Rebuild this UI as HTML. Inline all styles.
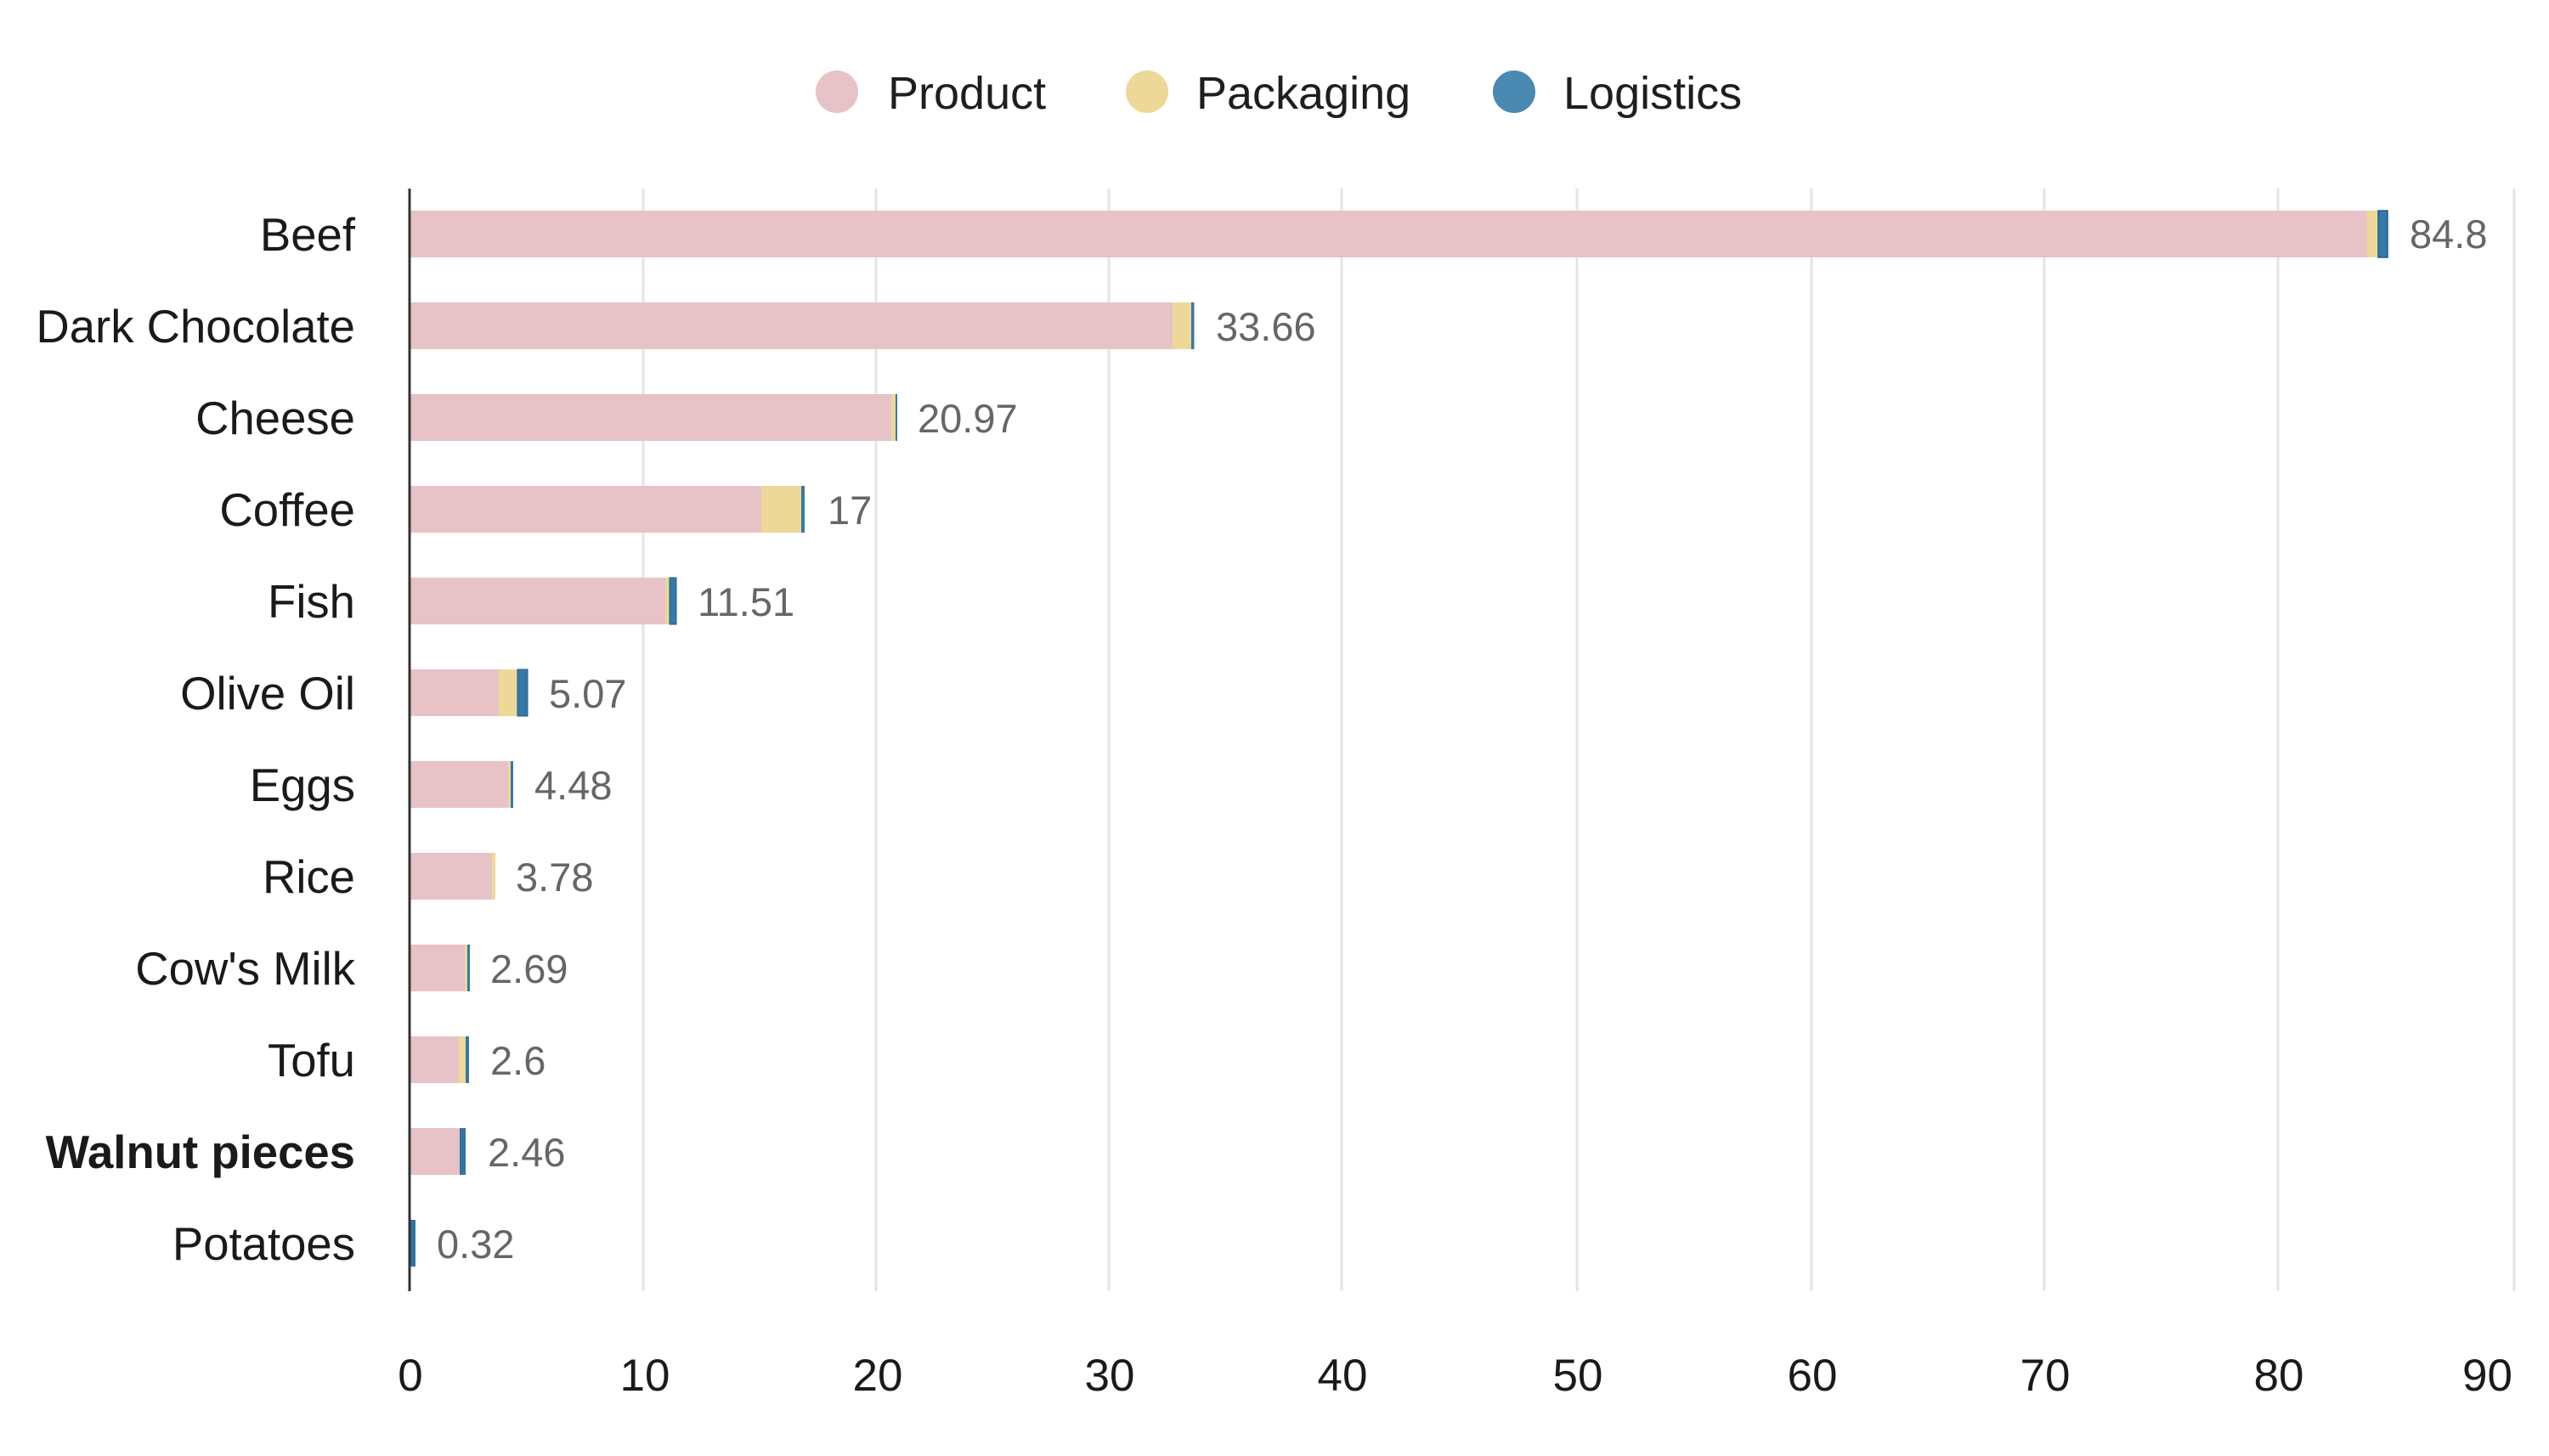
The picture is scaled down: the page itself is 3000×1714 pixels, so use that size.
<!DOCTYPE html>
<html>
<head>
<meta charset="utf-8">
<style>
  html, body { margin: 0; padding: 0; background: #ffffff; }
  body { width: 3000px; height: 1714px; overflow: hidden; }
  svg { display: block; }
  text { font-family: "Liberation Sans", Arial, Helvetica, sans-serif; }
</style>
</head>
<body>
<svg width="3000" height="1714" viewBox="0 0 3000 1714" xmlns="http://www.w3.org/2000/svg">
  <rect x="0" y="0" width="3000" height="1714" fill="#ffffff"/>

  <!-- Legend -->
  <circle cx="985" cy="108" r="25" fill="#e7c2c7"/>
  <text x="1045" y="128" font-size="54" fill="#1e1e1e">Product</text>
  <circle cx="1350" cy="108" r="25" fill="#edd898"/>
  <text x="1408" y="128" font-size="54" fill="#1e1e1e">Packaging</text>
  <circle cx="1782" cy="108" r="25" fill="#4a89b2"/>
  <text x="1840" y="128" font-size="54" fill="#1e1e1e">Logistics</text>

  <!-- Gridlines -->
  <g stroke="#e4e4e4" stroke-width="3">
    <line x1="757" y1="222" x2="757" y2="1520"/>
    <line x1="1031" y1="222" x2="1031" y2="1520"/>
    <line x1="1305" y1="222" x2="1305" y2="1520"/>
    <line x1="1579" y1="222" x2="1579" y2="1520"/>
    <line x1="1856" y1="222" x2="1856" y2="1520"/>
    <line x1="2132" y1="222" x2="2132" y2="1520"/>
    <line x1="2406" y1="222" x2="2406" y2="1520"/>
    <line x1="2681" y1="222" x2="2681" y2="1520"/>
    <line x1="2959" y1="222" x2="2959" y2="1520"/>
  </g>

  <!-- Bars -->
  <!-- Beef -->
  <rect x="483" y="248" width="2303" height="55" fill="#e7c2c7"/>
  <rect x="2786" y="248" width="13" height="55" fill="#edd898"/>
  <rect x="2799" y="248" width="11" height="55" fill="#3479a8" stroke="#1f5f8a" stroke-width="1.5"/>
  <!-- Dark Chocolate -->
  <rect x="483" y="356" width="897" height="55" fill="#e7c2c7"/>
  <rect x="1380" y="356" width="22" height="55" fill="#edd898"/>
  <rect x="1402" y="356" width="3.5" height="55" fill="#3479a8"/>
  <!-- Cheese -->
  <rect x="483" y="464" width="566" height="55" fill="#e7c2c7"/>
  <rect x="1049" y="464" width="5" height="55" fill="#edd898"/>
  <rect x="1054" y="464" width="2" height="55" fill="#3479a8"/>
  <!-- Coffee -->
  <rect x="483" y="572" width="413" height="55" fill="#e7c2c7"/>
  <rect x="896" y="572" width="47" height="55" fill="#edd898"/>
  <rect x="943" y="572" width="4" height="55" fill="#3479a8"/>
  <!-- Fish -->
  <rect x="483" y="680" width="300" height="55" fill="#e7c2c7"/>
  <rect x="783" y="680" width="5" height="55" fill="#edd898"/>
  <rect x="788" y="680" width="8" height="55" fill="#3479a8" stroke="#1f5f8a" stroke-width="1"/>
  <!-- Olive Oil -->
  <rect x="483" y="788" width="104" height="55" fill="#e7c2c7"/>
  <rect x="587" y="788" width="22" height="55" fill="#edd898"/>
  <rect x="609" y="788" width="12" height="55" fill="#3479a8" stroke="#1f5f8a" stroke-width="1"/>
  <!-- Eggs -->
  <rect x="483" y="896" width="115" height="55" fill="#e7c2c7"/>
  <rect x="598" y="896" width="3" height="55" fill="#edd898"/>
  <rect x="601" y="896" width="3" height="55" fill="#3479a8"/>
  <!-- Rice -->
  <rect x="483" y="1004" width="96" height="55" fill="#e7c2c7"/>
  <rect x="579" y="1004" width="4" height="55" fill="#edd898"/>
  <!-- Cow's Milk -->
  <rect x="483" y="1112" width="64" height="55" fill="#e7c2c7"/>
  <rect x="547" y="1112" width="3" height="55" fill="#edd898"/>
  <rect x="550" y="1112" width="3" height="55" fill="#3479a8"/>
  <!-- Tofu -->
  <rect x="483" y="1220" width="57" height="55" fill="#e7c2c7"/>
  <rect x="540" y="1220" width="8" height="55" fill="#edd898"/>
  <rect x="548" y="1220" width="4" height="55" fill="#3479a8"/>
  <!-- Walnut pieces -->
  <rect x="483" y="1328" width="58" height="55" fill="#e7c2c7"/>
  <rect x="541" y="1328" width="7" height="55" fill="#2f74a3"/>
  <!-- Potatoes -->
  <rect x="483" y="1436" width="6" height="55" fill="#2f74a3"/>

  <!-- Axis line -->
  <line x1="482" y1="222" x2="482" y2="1520" stroke="#333333" stroke-width="3"/>

  <!-- Category labels -->
  <g font-size="54.5" fill="#1a1a1a" text-anchor="end">
    <text x="418" y="295">Beef</text>
    <text x="418" y="403">Dark Chocolate</text>
    <text x="418" y="511">Cheese</text>
    <text x="418" y="619">Coffee</text>
    <text x="418" y="727">Fish</text>
    <text x="418" y="835">Olive Oil</text>
    <text x="418" y="943">Eggs</text>
    <text x="418" y="1051">Rice</text>
    <text x="418" y="1159">Cow's Milk</text>
    <text x="418" y="1267">Tofu</text>
    <text x="418" y="1375" font-weight="bold">Walnut pieces</text>
    <text x="418" y="1483">Potatoes</text>
  </g>

  <!-- Value labels -->
  <g font-size="47" fill="#666666">
    <text x="2836" y="292">84.8</text>
    <text x="1431" y="401">33.66</text>
    <text x="1080" y="509">20.97</text>
    <text x="974" y="617">17</text>
    <text x="821" y="725">11.51</text>
    <text x="646" y="833">5.07</text>
    <text x="629" y="941">4.48</text>
    <text x="607" y="1049">3.78</text>
    <text x="577" y="1157">2.69</text>
    <text x="577" y="1265">2.6</text>
    <text x="574" y="1373">2.46</text>
    <text x="514" y="1481">0.32</text>
  </g>

  <!-- X tick labels -->
  <g font-size="53" fill="#1a1a1a" text-anchor="middle">
    <text x="483" y="1637">0</text>
    <text x="759" y="1637">10</text>
    <text x="1033" y="1637">20</text>
    <text x="1306" y="1637">30</text>
    <text x="1580" y="1637">40</text>
    <text x="1857" y="1637">50</text>
    <text x="2133" y="1637">60</text>
    <text x="2407" y="1637">70</text>
    <text x="2682" y="1637">80</text>
    <text x="2957" y="1637" text-anchor="end">90</text>
  </g>
</svg>
</body>
</html>
